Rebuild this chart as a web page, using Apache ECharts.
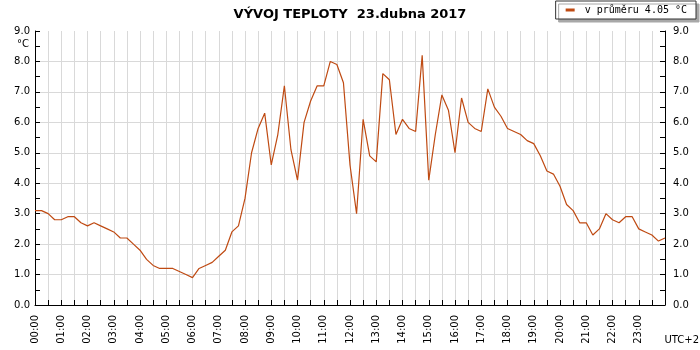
<!DOCTYPE html>
<html>
<head>
<meta charset="utf-8">
<title>Vývoj teploty</title>
<script src="https://cdn.jsdelivr.net/npm/echarts@6.0.0/dist/echarts.min.js"></script>
<style>
  html, body { margin: 0; padding: 0; background: #fff; }
  #main { width: 700px; height: 350px; }
</style>
</head>
<body>
<div id="main"></div>
<script>
var chartTitle = 'VÝVOJ TEPLOTY  23.dubna 2017';
var seriesName = 'v průměru 4.05 °C';
var unitLabel = '°C';
var zoneLabel = 'UTC+2';

// mereni kazdych 15 minut, 00:00 .. 24:00
var stepHours = 0.25;
var temps = [
  3.1, 3.1, 3.0, 2.8, 2.8, 2.9, 2.9, 2.7, 2.6, 2.7,
  2.6, 2.5, 2.4, 2.2, 2.2, 2.0, 1.8, 1.5, 1.3, 1.2,
  1.2, 1.2, 1.1, 1.0, 0.9, 1.2, 1.3, 1.4, 1.6, 1.8,
  2.4, 2.6, 3.5, 5.0, 5.8, 6.3, 4.6, 5.6, 7.2, 5.1,
  4.1, 6.0, 6.7, 7.2, 7.2, 8.0, 7.9, 7.3, 4.6, 3.0,
  6.1, 4.9, 4.7, 7.6, 7.4, 5.6, 6.1, 5.8, 5.7, 8.2,
  4.1, 5.6, 6.9, 6.4, 5.0, 6.8, 6.0, 5.8, 5.7, 7.1,
  6.5, 6.2, 5.8, 5.7, 5.6, 5.4, 5.3, 4.9, 4.4, 4.3,
  3.9, 3.3, 3.1, 2.7, 2.7, 2.3, 2.5, 3.0, 2.8, 2.7,
  2.9, 2.9, 2.5, 2.4, 2.3, 2.1, 2.2
];

var yMin = 0, yMax = 9;
var xMin = 0, xMax = 24;

var font = 'DejaVu Sans';
var gridColor = '#d9d9d9';
var lineColor = '#bf4a12';

function hourLabel(v) {
  if (v % 1 !== 0 || v >= xMax) return '';
  return (v < 10 ? '0' : '') + v + ':00';
}

function tempAxis(position, margin, grid) {
  return {
    type: 'value',
    position: position,
    min: yMin,
    max: yMax,
    interval: 1,
    axisLine: { show: true, lineStyle: { color: '#000', width: 1 } },
    axisTick: { show: true, inside: true, length: 5, lineStyle: { color: '#000' } },
    minorTick: { show: true, splitNumber: 2, length: 5, lineStyle: { color: '#000' } },
    axisLabel: {
      margin: margin, color: '#000', fontFamily: font, fontSize: 10,
      formatter: function (v) { return v.toFixed(1); }
    },
    splitLine: { show: grid, showMaxLine: false, lineStyle: { color: gridColor, width: 1 } }
  };
}

var myChart = echarts.init(document.getElementById('main'));
var points = temps.map(function (t, i) { return [i * stepHours, t]; });

myChart.setOption({
  animation: false,
  backgroundColor: '#fff',
  title: {
    text: chartTitle,
    left: 'center',
    top: 3,
    textStyle: { fontFamily: font, fontSize: 13, fontWeight: 'bold', color: '#000' }
  },
  legend: {
    data: [seriesName],
    right: 4,
    top: 1,
    icon: 'rect',
    itemWidth: 9,
    itemHeight: 3,
    padding: [4, 9, 4, 10],
    backgroundColor: '#fff',
    borderColor: '#333',
    borderWidth: 1,
    shadowColor: '#a8a8a8',
    shadowBlur: 0,
    shadowOffsetX: 3,
    shadowOffsetY: 3,
    selectedMode: false,
    textStyle: { fontFamily: 'DejaVu Sans Mono', fontSize: 10, color: '#000', padding: [0, 0, 0, 5] }
  },
  grid: { left: 35, right: 35, top: 31, bottom: 45, containLabel: false },
  xAxis: {
    type: 'value',
    min: xMin,
    max: xMax,
    interval: 0.5,
    axisLine: { show: true, lineStyle: { color: '#000', width: 1 } },
    axisTick: { show: true, inside: true, length: 5, lineStyle: { color: '#000' } },
    axisLabel: {
      rotate: 90, margin: 10, color: '#000', fontFamily: font, fontSize: 10,
      formatter: hourLabel
    },
    splitLine: { show: true, lineStyle: { color: gridColor, width: 1 } }
  },
  yAxis: [tempAxis('left', 5, true), tempAxis('right', 8, false)],
  graphic: [
    { type: 'text', left: 17, top: 39, style: { text: unitLabel, font: '10px "DejaVu Sans"', fill: '#000' } },
    { type: 'text', right: 1, top: 335, style: { text: zoneLabel, font: '10px "DejaVu Sans"', fill: '#000' } }
  ],
  series: [{
    name: seriesName,
    type: 'line',
    data: points,
    symbol: 'none',
    lineStyle: { color: lineColor, width: 1.2 },
    itemStyle: { color: lineColor }
  }]
});
</script>
</body>
</html>
